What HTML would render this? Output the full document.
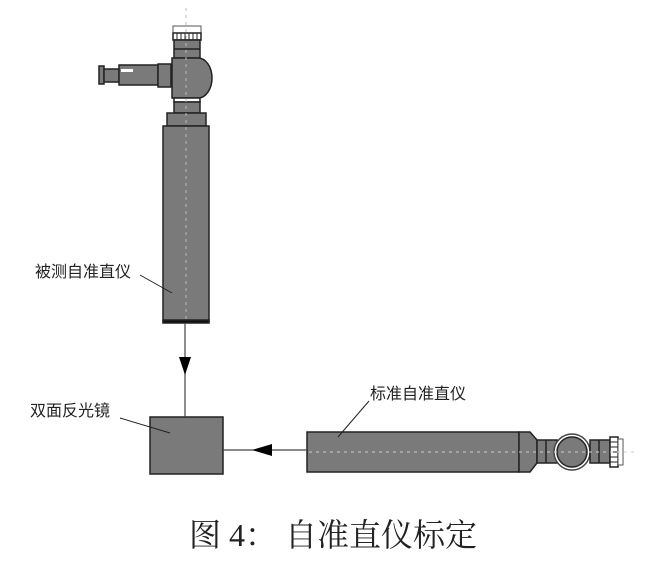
<!DOCTYPE html>
<html><head><meta charset="utf-8"><style>
html,body{margin:0;padding:0;background:#fff;}
svg{display:block}
.t{font-family:"Liberation Sans","Noto Sans CJK SC",sans-serif;font-size:16px;fill:#222}
.c{font-family:"Liberation Serif","Noto Serif CJK SC",serif;font-size:32px;fill:#222}
</style></head><body>
<svg width="662" height="567" viewBox="0 0 662 567" xmlns="http://www.w3.org/2000/svg">
<g stroke="#222" stroke-width="1.5" fill="#7a7a7a">
<rect x="173" y="26" width="28" height="7" fill="#fff" stroke="#555" stroke-width="1"/>
<rect x="173" y="33" width="28" height="7" fill="#fff"/>
<g stroke-width="1">
<line x1="177" y1="33" x2="177" y2="40"/><line x1="181" y1="33" x2="181" y2="40"/><line x1="185" y1="33" x2="185" y2="40"/><line x1="189" y1="33" x2="189" y2="40"/><line x1="193" y1="33" x2="193" y2="40"/><line x1="197" y1="33" x2="197" y2="40"/>
</g>
<rect x="174" y="40" width="26" height="18"/>
<line x1="174" y1="49" x2="200" y2="49"/>
<rect x="99" y="66" width="5" height="18"/>
<rect x="104" y="69" width="15" height="13"/>
<rect x="119" y="65" width="39" height="20"/>
<rect x="121" y="69" width="12" height="3" fill="#fff" stroke="none"/>
<rect x="158" y="64" width="13" height="23"/>
<path d="M172 58 H198 A14 20 0 0 1 198 98 H172 Z"/>
<rect x="174" y="98" width="26" height="4" fill="#fff"/>
<rect x="174" y="102" width="26" height="11"/>
<path d="M167 113 H206 V126 H167 Z"/>
<rect x="163" y="126" width="46" height="196"/>
<rect x="163" y="320" width="46" height="3" fill="#111"/>
<rect x="150" y="417" width="73" height="57"/>
<rect x="307" y="432" width="212" height="40"/>
<path d="M519 432 H530 L537 440 V463 L530 472 H519 Z"/>
<rect x="537" y="440" width="20" height="23"/>
<line x1="546" y1="440" x2="546" y2="463"/>
<circle cx="572" cy="452" r="18" fill="#fff" stroke="#444"/>
<circle cx="572" cy="452" r="15"/>
<rect x="590" y="440" width="20" height="23"/>
<line x1="599" y1="440" x2="599" y2="463"/>
<rect x="610" y="437" width="8" height="30" fill="#fff"/>
<line x1="610" y1="442" x2="618" y2="442" stroke-width="1"/><line x1="610" y1="447" x2="618" y2="447" stroke-width="1"/><line x1="610" y1="452" x2="618" y2="452" stroke-width="1"/><line x1="610" y1="457" x2="618" y2="457" stroke-width="1"/><line x1="610" y1="462" x2="618" y2="462" stroke-width="1"/>
<rect x="618" y="439" width="5" height="26" fill="#fff" stroke="#555" stroke-width="1"/>
</g>
<line x1="186" y1="8" x2="186" y2="320" stroke="#bbb" stroke-width="1" stroke-dasharray="3 4"/>
<line x1="309" y1="452" x2="634" y2="452" stroke="#ccc" stroke-width="1" stroke-dasharray="3 4"/>
<line x1="185" y1="323" x2="185" y2="417" stroke="#444" stroke-width="1.2"/>
<polygon points="179,357 191,357 185,375" fill="#000"/>
<line x1="223" y1="450" x2="307" y2="450" stroke="#444" stroke-width="1.2"/>
<polygon points="252,450 272,444 272,456" fill="#000"/>
<g stroke="#222" stroke-width="1">
<line x1="140" y1="275" x2="172" y2="293"/>
<line x1="120" y1="418" x2="170" y2="433"/>
<line x1="369" y1="401" x2="338" y2="437"/>
</g>
<text class="t" x="35" y="277">被测自准直仪</text>
<text class="t" x="30" y="416">双面反光镜</text>
<text class="t" x="370" y="399">标准自准直仪</text>
<text class="c" x="189" y="546">图 4：  自准直仪标定</text>
</svg>
</body></html>
